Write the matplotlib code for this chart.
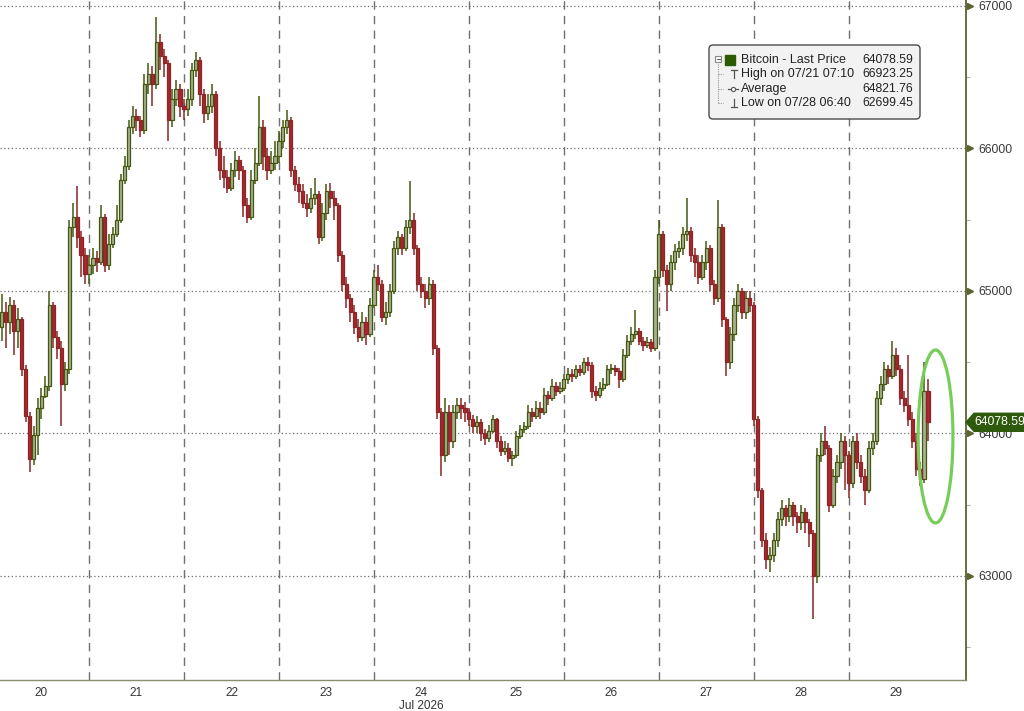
import numpy as np
import matplotlib.pyplot as plt
from matplotlib.patches import Ellipse, Polygon, FancyBboxPatch, Rectangle

plt.rcParams['font.family'] = ['Liberation Sans', 'DejaVu Sans']

# hourly candles from Jul 20 02:00, one row per day, open = previous close
first_open = 64750
closes = [
    64850, 64780, 64900, 64720, 64800, 64450, 64120, 63820, 63990, 64180, 64260, 64330, 64900, 64680, 64600, 64350, 64450, 65450, 65520, 65380, 65250, 65120,
    65180, 65230, 65200, 65520, 65180, 65330, 65400, 65500, 65780, 65880, 66150, 66230, 66200, 66130, 66450, 66520, 66450, 66750, 66650, 66600, 66200, 66350, 66420, 66300,
    66280, 66350, 66550, 66620, 66380, 66250, 66300, 66380, 66000, 65850, 65800, 65720, 65850, 65920, 65850, 65600, 65520, 65780, 65900, 66150, 65950, 65850, 65900, 65950,
    66050, 66150, 66200, 65850, 65750, 65700, 65620, 65580, 65650, 65680, 65380, 65550, 65700, 65650, 65600, 65250, 65050, 64950, 64850, 64750, 64680, 64780, 64700, 64900,
    65100, 65050, 64820, 64850, 65000, 65300, 65380, 65300, 65450, 65500, 65300, 65050, 65000, 64950, 65050, 64600, 64150, 63850, 64150, 63950, 64150, 64200, 64180, 64150,
    64100, 64050, 64080, 64000, 63970, 64020, 64100, 63950, 63880, 63900, 63830, 63850, 63980, 64030, 64050, 64150, 64120, 64180, 64150, 64270, 64250, 64330, 64300, 64320,
    64380, 64420, 64400, 64450, 64430, 64500, 64480, 64300, 64270, 64320, 64350, 64450, 64460, 64440, 64380, 64550, 64650, 64700, 64720, 64650, 64620, 64640, 64600, 65100,
    65400, 65150, 65050, 65200, 65280, 65300, 65400, 65420, 65250, 65200, 65100, 65200, 65300, 65050, 64950, 65450, 64800, 64500, 64700, 64900, 65000, 64850, 64950, 64900,
    64100, 63600, 63250, 63120, 63150, 63250, 63400, 63480, 63420, 63500, 63420, 63380, 63450, 63380, 63300, 63000, 63850, 63950, 63900, 63500, 63700, 63800, 63950, 63850,
    63650, 63950, 63800, 63700, 63600, 63900, 63950, 64250, 64350, 64450, 64400, 64550, 64450, 64250, 64200, 64100, 63950, 63750, 63680, 64300, 64078.59,
]
highs = [
    64980, 64920, 64960, 64940, 64880, 64820, 64480, 64150, 64050, 64250, 64320, 64400, 65000, 64920, 64720, 64650, 64500, 65500, 65620, 65740, 65420, 65300,
    65250, 65300, 65280, 65600, 65540, 65400, 65450, 65600, 65820, 65950, 66200, 66300, 66280, 66230, 66520, 66600, 66580, 66923.25, 66800, 66700, 66620, 66420, 66480, 66450,
    66350, 66420, 66600, 66680, 66640, 66420, 66380, 66450, 66400, 66050, 65950, 65850, 65900, 65980, 65950, 65880, 65650, 65850, 66000, 66370, 66200, 66000, 65980, 66050,
    66120, 66200, 66270, 66220, 65880, 65800, 65750, 65680, 65720, 65790, 65700, 65620, 65750, 65760, 65700, 65620, 65280, 65100, 64980, 64900, 64800, 64850, 64820, 64950,
    65150, 65180, 65080, 64920, 65050, 65350, 65420, 65400, 65500, 65770, 65550, 65320, 65100, 65050, 65100, 65080, 64620, 64180, 64250, 64200, 64200, 64250, 64250, 64220,
    64180, 64130, 64120, 64100, 64030, 64060, 64130, 64110, 63980, 63950, 63930, 63880, 64020, 64060, 64080, 64200, 64180, 64230, 64220, 64320, 64300, 64380, 64360, 64360,
    64420, 64460, 64450, 64480, 64480, 64530, 64540, 64500, 64330, 64360, 64390, 64480, 64490, 64480, 64460, 64590, 64690, 64750, 64870, 64740, 64680, 64680, 64660, 65150,
    65500, 65420, 65180, 65250, 65330, 65350, 65450, 65650, 65450, 65300, 65250, 65250, 65350, 65320, 65080, 65640, 65470, 64820, 64750, 64950, 65050, 65020, 65000, 65000,
    64920, 64120, 63620, 63300, 63200, 63300, 63450, 63530, 63500, 63550, 63520, 63450, 63500, 63480, 63400, 63320, 63900, 64000, 64050, 63920, 63750, 63850, 64000, 63980,
    63880, 63980, 64000, 63850, 63750, 63950, 64000, 64300, 64400, 64500, 64480, 64650, 64600, 64480, 64300, 64550, 64150, 64000, 63800, 64500, 64380,
]
lows = [
    64650, 64600, 64700, 64550, 64600, 64400, 64080, 63730, 63780, 63850, 64100, 64250, 64300, 64600, 64520, 64050, 64300, 64420, 65380, 65300, 65100, 65050,
    65050, 65120, 65130, 65180, 65130, 65150, 65300, 65380, 65480, 65750, 65850, 66100, 66120, 66080, 66100, 66380, 66300, 66420, 66550, 66500, 66050, 66150, 66300, 66220,
    66200, 66230, 66300, 66500, 66300, 66180, 66200, 66250, 65950, 65780, 65720, 65690, 65700, 65800, 65780, 65520, 65480, 65500, 65750, 65880, 65850, 65780, 65820, 65850,
    65900, 66000, 66100, 65800, 65700, 65620, 65580, 65520, 65550, 65600, 65330, 65350, 65500, 65580, 65500, 65200, 65000, 64880, 64780, 64700, 64640, 64650, 64620, 64680,
    64880, 65000, 64780, 64760, 64820, 64980, 65250, 65250, 65280, 65400, 65250, 65000, 64950, 64880, 64900, 64550, 64100, 63700, 63800, 63850, 63900, 64100, 64100, 64080,
    64050, 64000, 64000, 63950, 63920, 63940, 64000, 63900, 63840, 63850, 63800, 63770, 63830, 63960, 64000, 64030, 64080, 64100, 64100, 64130, 64200, 64230, 64260, 64280,
    64300, 64350, 64360, 64380, 64400, 64410, 64440, 64250, 64230, 64250, 64300, 64330, 64420, 64400, 64320, 64360, 64530, 64620, 64660, 64620, 64580, 64600, 64570, 64580,
    65050, 65100, 64860, 65000, 65150, 65230, 65250, 65350, 65200, 65100, 65050, 65080, 65150, 65000, 64900, 64920, 64750, 64400, 64450, 64650, 64850, 64800, 64800, 64850,
    64050, 63550, 63200, 63050, 63030, 63100, 63200, 63350, 63350, 63380, 63350, 63300, 63320, 63300, 63200, 62699.45, 62950, 63800, 63850, 63450, 63480, 63650, 63750, 63600,
    63550, 63620, 63750, 63650, 63500, 63580, 63850, 63920, 64200, 64300, 64350, 64380, 64400, 64200, 64150, 64050, 63900, 63700, 63630, 63650, 63950,
]

day_labels = ['20', '21', '22', '23', '24\nJul 2026', '25', '26', '27', '28', '29']
price_ticks = [63000, 64000, 65000, 66000, 67000]
last_price = 64078.59
legend_rows = [
    ('Bitcoin - Last Price', '64078.59'),
    ('High on 07/21 07:10', '66923.25'),
    ('Average', '64821.76'),
    ('Low on 07/28 06:40', '62699.45'),
]

closes = np.array(closes)
highs = np.array(highs)
lows = np.array(lows)
opens = np.concatenate([[first_open], closes[:-1]])
hours = np.arange(len(closes)) + 2
up = closes >= opens

fig = plt.figure(figsize=(10.24, 7.11), dpi=100)
ax = fig.add_axes([0, 31 / 711, 966 / 1024, 680 / 711])

# grid
for d in range(1, 10):
    ax.axvline(24 * d, color='#707070', lw=1, dashes=(6, 4.5), zorder=1)
for p in price_ticks:
    ax.axhline(p, color='#707070', lw=0.9, linestyle=(0, (1, 2)), zorder=1)

# candles
up_edge, up_face = '#43580f', '#a9b092'
dn_edge, dn_face = '#8a2626', '#a8262d'
ax.vlines(hours[up], lows[up], highs[up], color=up_edge, lw=1.1, zorder=2)
ax.vlines(hours[~up], lows[~up], highs[~up], color=dn_edge, lw=1.1, zorder=2)
body = np.maximum(np.abs(closes - opens), 8)
ax.bar(hours[up], body[up], bottom=np.minimum(opens, closes)[up], width=0.8,
       color=up_face, edgecolor=up_edge, lw=0.9, zorder=3)
ax.bar(hours[~up], body[~up], bottom=np.minimum(opens, closes)[~up], width=0.8,
       color=dn_face, edgecolor=dn_edge, lw=0.9, zorder=3)

ax.set_xlim(1.52, 245.6)
ax.set_ylim(62270, 67042)

# axes styling
for s in ['left', 'top']:
    ax.spines[s].set_visible(False)
ax.spines['right'].set_color('#5b6331')
ax.spines['right'].set_linewidth(1.3)
ax.spines['bottom'].set_color('#8c8c70')
ax.spines['bottom'].set_linewidth(1)

ax.set_xticks([12 + 24 * i for i in range(10)])
ax.set_xticklabels(day_labels, fontsize=8.5, color='#333333', linespacing=1.1)
ax.tick_params(axis='x', length=0, pad=5)

ax.yaxis.tick_right()
ax.set_yticks(price_ticks)
ax.set_yticklabels([str(p) for p in price_ticks], fontsize=8.8, color='#3a3a3a')
ax.set_yticks([62500, 63500, 64500, 65500, 66500], minor=True)
ax.tick_params(axis='y', which='major', length=0, pad=9)
ax.tick_params(axis='y', which='minor', length=3, color='#b0b0a0', width=0.8)
ax.plot([1 + 4 / 966] * len(price_ticks), price_ticks, '>', ms=5, color='#5b6331',
        transform=ax.get_yaxis_transform(), clip_on=False, zorder=6)

# last price tag
upx = 7.018  # price units per pixel
tag = Polygon([(1.0, last_price), (1 + 8 / 966, last_price + 9 * upx),
               (1 + 62 / 966, last_price + 9 * upx), (1 + 62 / 966, last_price - 9 * upx),
               (1 + 8 / 966, last_price - 9 * upx)],
              closed=True, transform=ax.get_yaxis_transform(), clip_on=False,
              facecolor='#2e5a0c', edgecolor='#2e5a0c', zorder=10)
ax.add_patch(tag)
ax.text(1 + 8 / 966, last_price, f'{last_price:.2f}', transform=ax.get_yaxis_transform(),
        ha='left', va='center', color='white', fontsize=8.8, zorder=11, clip_on=False)

# highlight ellipse
ax.add_patch(Ellipse((237.9, 63979), 8.8, 1214, fill=False, edgecolor='#78cc5a', lw=2.3, zorder=5))

# legend box (drawn in pixel units)
lax = fig.add_axes([707 / 1024, 1 - 121 / 711, 215 / 1024, 78 / 711])
lax.set_xlim(0, 215)
lax.set_ylim(78, 0)
lax.axis('off')
lax.add_patch(FancyBboxPatch((2, 2), 211, 74, boxstyle='round,pad=0,rounding_size=4',
                             facecolor='#f2f2f2', edgecolor='#4a4a4a', lw=1))
row_y = [17, 31, 46, 60]
lax.plot([11, 11], [21, row_y[3]], color='#999999', lw=0.8, ls=(0, (1, 1)))
for y in row_y[1:]:
    lax.plot([11, 16], [y, y], color='#999999', lw=0.8, ls=(0, (1, 1)))
lax.add_patch(Rectangle((8, 13), 6, 6, facecolor='white', edgecolor='#888888', lw=0.8))
lax.plot([9.5, 12.5], [16, 16], color='#666666', lw=0.8)
lax.add_patch(Rectangle((18, 12), 10, 10, facecolor='#2d5a05', edgecolor='#2d5a05'))
lax.plot([24, 30], [row_y[1] - 4, row_y[1] - 4], color='#555555', lw=0.9)
lax.plot([27, 27], [row_y[1] - 4, row_y[1] + 4], color='#555555', lw=0.9)
lax.plot([21, 31], [row_y[2], row_y[2]], color='#555555', lw=0.9)
lax.plot([26], [row_y[2]], 'o', ms=3, mfc='white', mec='#555555', mew=0.8)
lax.plot([27, 27], [row_y[3] - 4, row_y[3] + 4], color='#555555', lw=0.9)
lax.plot([24, 30], [row_y[3] + 4, row_y[3] + 4], color='#555555', lw=0.9)
for (label, val), y in zip(legend_rows, row_y):
    lax.text(34, y, label, ha='left', va='center', fontsize=9.0, color='#222222')
    lax.text(206, y, val, ha='right', va='center', fontsize=8.7, color='#222222')

fig.savefig('out.png', dpi=100)
